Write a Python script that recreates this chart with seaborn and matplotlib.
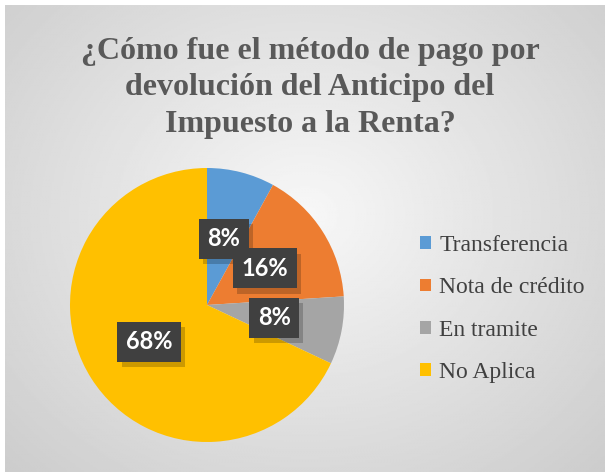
import matplotlib
matplotlib.use("Agg")
import matplotlib.pyplot as plt
import matplotlib.patheffects as pe
from matplotlib.patches import Patch
import seaborn as sns
import numpy as np

# data
categories = ["Transferencia", "Nota de crédito", "En tramite", "No Aplica"]
values = [8, 16, 8, 68]
colors = ["#5B9BD5", "#ED7D31", "#A5A5A5", "#FFC000"]
title = "¿Cómo fue el método de pago por\ndevolución del Anticipo del\nImpuesto a la Renta?"

sns.set_theme(style="white")
plt.rcParams["font.family"] = ["Liberation Serif", "DejaVu Serif"]

W, H = 605, 472
fig = plt.figure(figsize=(W / 100, H / 100), dpi=100)
fig.patch.set_facecolor("white")

# radial gray gradient background of the chart area
bg = fig.add_axes([5 / W, 0, (W - 5) / W, (H - 5) / H])
yy, xx = np.mgrid[0:1:300j, 0:1:400j]
r = np.sqrt(((xx - 0.5) / 0.5) ** 2 + ((yy - 0.45) / 0.55) ** 2) / np.sqrt(2)
r = np.clip(r, 0, 1)
light, dark = 0.97, 0.80
img = light + (dark - light) * r
bg.imshow(img, cmap="gray", vmin=0, vmax=1, aspect="auto", extent=[0, 1, 0, 1])
bg.set_axis_off()

# pie
cx, cy, rad = 207, 305, 137
ax = fig.add_axes([(cx - rad) / W, (H - cy - rad) / H, 2 * rad / W, 2 * rad / H])
wedges, texts, autotexts = ax.pie(
    values, colors=sns.color_palette(colors), startangle=90, counterclock=False,
    autopct="%1.0f%%", pctdistance=0.5, wedgeprops=dict(linewidth=0),
)
ax.set_xlim(-1, 1)
ax.set_ylim(-1, 1)
ax.set_axis_off()

# dark label boxes with a soft shadow
for t in autotexts:
    t.set_fontsize(17)
    t.set_fontweight("bold")
    t.set_family("Lato")
    t.set_color("white")
    t.set_zorder(5)
    t.set_bbox(dict(boxstyle="square,pad=0.36", fc="#404040", ec="none", lw=0))
    t.get_bbox_patch().set_path_effects([
        pe.SimplePatchShadow(offset=(3, -4), shadow_rgbFace="black", alpha=0.2),
        pe.Normal(),
    ])

fig.text(310 / W, 1 - 37 / H, title, ha="center", va="top", fontsize=23,
         fontweight="bold", color="#595959", linespacing=1.33)

handles = [Patch(facecolor=c, edgecolor="none") for c in colors]
leg = fig.legend(handles, categories, loc="center left", bbox_to_anchor=(399 / W, 1 - 309 / H),
                 frameon=False, fontsize=17, handlelength=0.45, handleheight=0.45,
                 handletextpad=0.35, labelspacing=0.91)
for txt in leg.get_texts():
    txt.set_color("#404040")

fig.savefig("out.png", dpi=100)
